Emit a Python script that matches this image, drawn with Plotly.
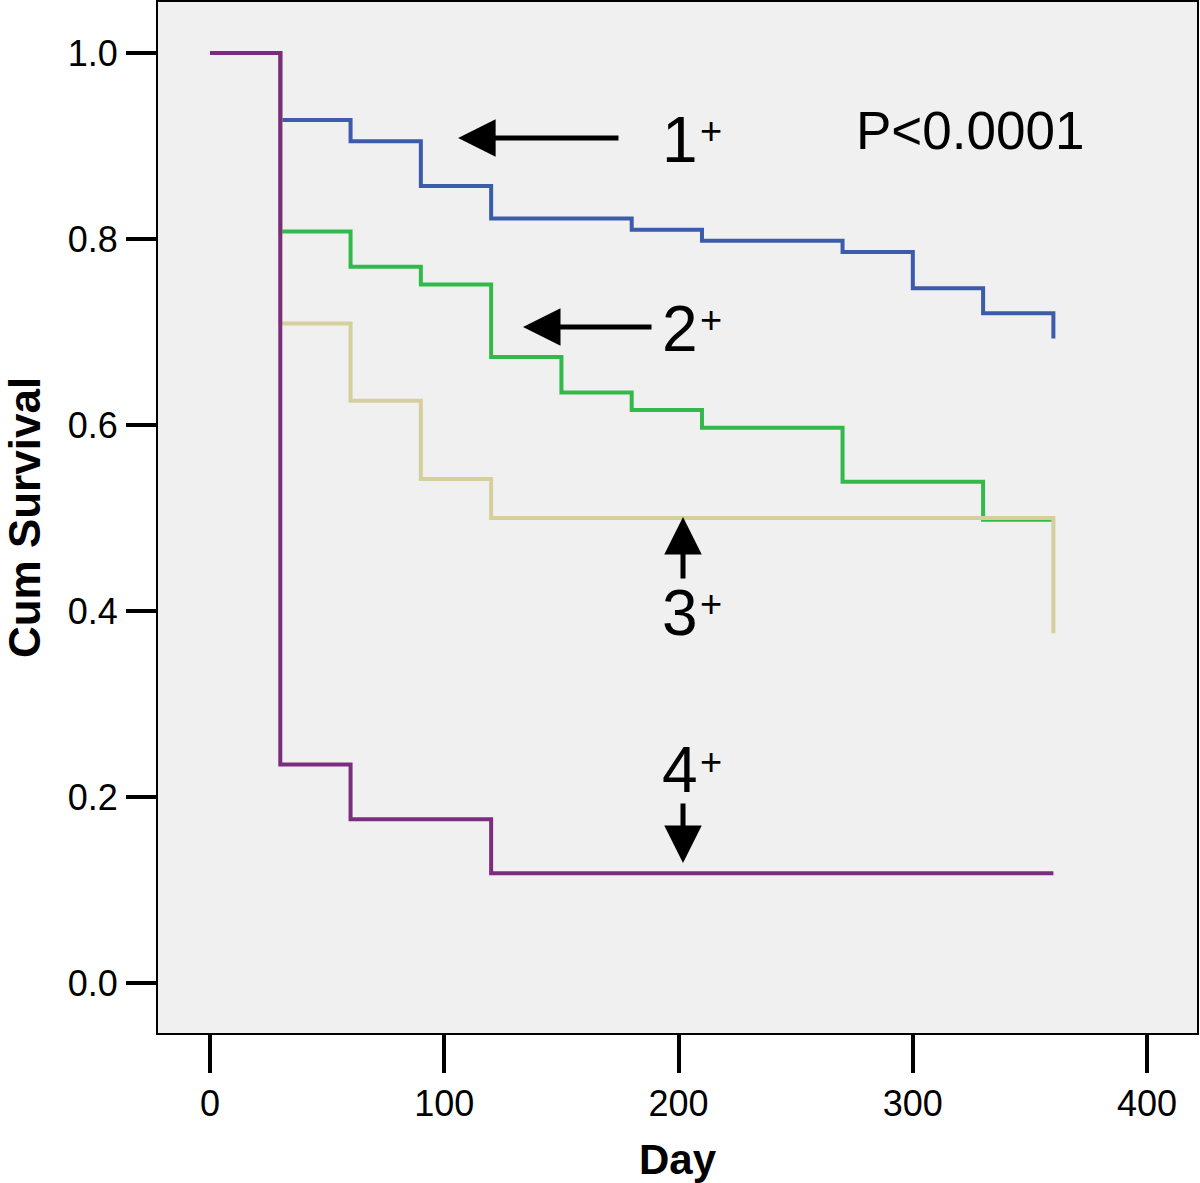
import plotly.graph_objects as go

# ---- data ----
days_g1 = [0, 30, 60, 90, 120, 180, 210, 270, 300, 330, 360]
surv_g1 = [1.0, 0.928, 0.905, 0.857, 0.822, 0.810, 0.798, 0.786, 0.747, 0.720, 0.693]

days_g2 = [0, 30, 60, 90, 120, 150, 180, 210, 270, 330, 360]
surv_g2 = [1.0, 0.808, 0.770, 0.751, 0.673, 0.635, 0.616, 0.597, 0.539, 0.498, 0.498]

days_g3 = [0, 30, 60, 90, 120, 360]
surv_g3 = [1.0, 0.709, 0.626, 0.542, 0.500, 0.376]

days_g4 = [0, 30, 60, 120, 360]
surv_g4 = [1.0, 0.235, 0.176, 0.118, 0.118]

group_names = ["1", "2", "3", "4"]
group_colors = ["#3d5bab", "#33b84a", "#d4cf9c", "#7b2c7f"]

x_ticks = [0, 100, 200, 300, 400]
y_ticks = [0.0, 0.2, 0.4, 0.6, 0.8, 1.0]

FONT = "Liberation Sans, Arial, Helvetica, sans-serif"

fig = go.Figure()
for dx, sy, name, col in zip([days_g1, days_g2, days_g3, days_g4],
                             [surv_g1, surv_g2, surv_g3, surv_g4],
                             group_names, group_colors):
    fig.add_trace(go.Scatter(x=dx, y=sy, mode="lines", line_shape="hv",
                             line=dict(color=col, width=4), name=name + "+",
                             showlegend=False))

# group labels: (digit, digit x, digit y, plus x, plus y, tip x, tip y, tail x, tail y)
labels = [
    ("1", 200.5, 0.906, 213.9, 0.916, 105.9, 0.9086, 175.0, 0.9086),
    ("2", 200.8, 0.703, 213.9, 0.713, 133.6, 0.7054, 189.1, 0.7054),
    ("3", 200.8, 0.398, 213.9, 0.4075, 201.9, 0.501, 201.9, 0.4333),
    ("4", 200.8, 0.229, 213.9, 0.2376, 201.9, 0.129, 201.9, 0.1946),
]
for dg, tx, ty, px, py, hx, hy, sx, sy in labels:
    fig.add_annotation(x=tx, y=ty, text=dg, showarrow=False,
                       font=dict(family=FONT, size=64, color="black"),
                       xanchor="center", yanchor="middle")
    fig.add_annotation(x=px, y=py, text="+", showarrow=False,
                       font=dict(family=FONT, size=38, color="black"),
                       xanchor="center", yanchor="middle")
    fig.add_annotation(x=hx, y=hy, ax=sx, ay=sy, xref="x", yref="y",
                       axref="x", ayref="y", text="", showarrow=True,
                       arrowhead=2, arrowwidth=5, arrowsize=1.5,
                       arrowcolor="black", standoff=0, startstandoff=0)

fig.add_annotation(x=324.4, y=0.917, text="P<0.0001", showarrow=False,
                   font=dict(family=FONT, size=53, color="black"),
                   xanchor="center", yanchor="middle")

fig.update_layout(
    width=1200, height=1183,
    margin=dict(l=158, r=3, t=2, b=150),
    paper_bgcolor="white", plot_bgcolor="#f0f0f0",
    font=dict(family=FONT, color="black"),
)
fig.update_xaxes(
    range=[-22.2, 421.3], tickvals=x_ticks, ticktext=[str(v) for v in x_ticks],
    showgrid=False, zeroline=False, automargin=False,
    showline=True, linecolor="black", linewidth=2, mirror=True,
    ticks="outside", ticklen=38, tickwidth=4, tickcolor="black",
    tickfont=dict(family=FONT, size=36, color="black"),
    title=dict(text="<b>Day</b>", font=dict(family=FONT, size=42, color="black"), standoff=22),
)
fig.update_yaxes(
    range=[-0.0538, 1.0548], tickvals=y_ticks, ticktext=[f"{v:.1f}" for v in y_ticks],
    showgrid=False, zeroline=False, automargin=False,
    showline=True, linecolor="black", linewidth=2, mirror=True,
    ticks="outside", ticklen=30, tickwidth=4, tickcolor="black",
    tickfont=dict(family=FONT, size=36, color="black"),
    ticklabelstandoff=1,
    title=dict(text="<b>Cum Survival</b>", font=dict(family=FONT, size=44, color="black"), standoff=14),
)

fig.write_html("out.html", config={"displayModeBar": False},
               post_script="document.body.style.margin='0';document.body.style.overflow='hidden';")
